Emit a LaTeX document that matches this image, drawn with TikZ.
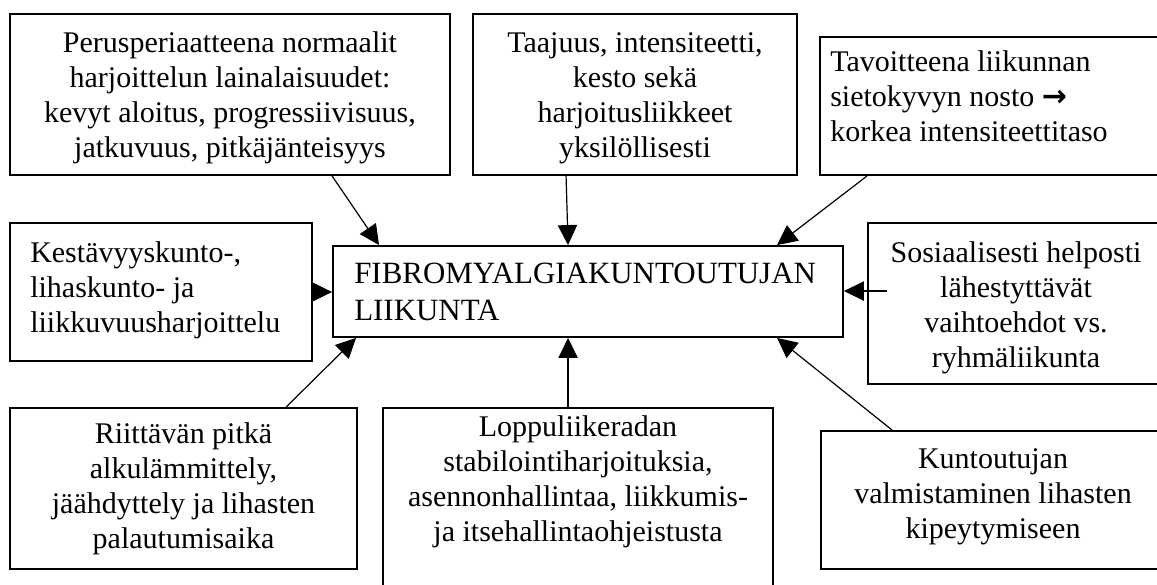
\documentclass[tikz,border=0pt]{standalone}
\usepackage{fontspec}
\setmainfont{Liberation Serif}
\newfontfamily\arrowfont{DejaVu Sans}
\usetikzlibrary{arrows.meta,calc}

\begin{document}
\begin{tikzpicture}[x=0.75pt,y=-0.75pt,
  box/.style={draw,line width=1.4pt,inner sep=0pt,
    minimum width={#1}},
  boxh/.style={minimum height={#1}},
  % text blocks are placed by the baseline of their last line
  txt/.style={inner sep=0pt,anchor=base,
    font=\fontsize{22.5pt}{26.25pt}\selectfont},
  arr/.style={line width=0.9pt,-{Triangle[length=15pt,width=14.5pt]}}]

\useasboundingbox (0,0) rectangle (1157,585);
\clip (0,0) rectangle (1157,585);

% frames (sizes given in pixels, 1px = 0.75pt)
\node[box=440*0.75pt,boxh=161*0.75pt] (b1) at (230,94.5) {};
\node[box=324*0.75pt,boxh=161*0.75pt] (b2) at (635,94.5) {};
\node[box=350*0.75pt,boxh=138*0.75pt] (b3) at (995,106) {};
\node[box=302*0.75pt,boxh=138*0.75pt] (b4) at (161,292) {};
\node[box=510*0.75pt,boxh=91*0.75pt]  (c)  at (588,291.5) {};
\node[box=297*0.75pt,boxh=161*0.75pt] (b6) at (1016.5,303.5) {};
\node[box=347*0.75pt,boxh=161*0.75pt] (b7) at (183.5,488.5) {};
\node[box=390*0.75pt,boxh=212*0.75pt] (b8) at (578,514) {};
\node[box=344*0.75pt,boxh=138*0.75pt] (b9) at (993,500) {};

% texts
\node[txt,align=center] (t1) at (230,157)
  {Perusperiaatteena normaalit\\harjoittelun lainalaisuudet:\\kevyt aloitus, progressiivisuus,\\jatkuvuus, pitkäjänteisyys};
\node[txt,align=center] (t2) at (635,157)
  {Taajuus, intensiteetti,\\kesto sekä\\harjoitusliikkeet\\yksilöllisesti};
\node[txt,align=left,anchor=base west] (t3) at (830,142)
  {Tavoitteena liikunnan\\sietokyvyn nosto {\arrowfont\bfseries →}\\korkea intensiteettitaso};
\node[txt,align=left,anchor=base west] (t4) at (30,332)
  {Kestävyyskunto-,\\lihaskunto- ja\\liikkuvuusharjoittelu};
\node[txt,align=left,anchor=base west,
  font=\fontsize{23.2pt}{27.75pt}\selectfont] (tc) at (354,320)
  {FIBROMYALGIAKUNTOUTUJAN\\LIIKUNTA};
\node[txt,align=center] (t6) at (1016,367)
  {Sosiaalisesti helposti\\lähestyttävät\\vaihtoehdot vs.\\ryhmäliikunta};
\node[txt,align=center] (t7) at (183.5,548)
  {Riittävän pitkä\\alkulämmittely,\\jäähdyttely ja lihasten\\palautumisaika};
\node[txt,align=center] (t8) at (578,541)
  {Loppuliikeradan\\stabilointiharjoituksia,\\asennonhallintaa, liikkumis-\\ja itsehallintaohjeistusta};
\node[txt,align=center] (t9) at (993,538)
  {Kuntoutujan\\valmistaminen lihasten\\kipeytymiseen};

% connectors into the central frame
\draw[arr] ($(b1.south west)+(323,0)$) -- ($(c.north west)+(47,0)$);
\draw[arr] ($(b2.south west)+(94,0)$) -- ($(c.north west)+(236,0)$);
\draw[arr] ($(b3.south west)+(48,0)$) -- ($(c.north west)+(445,0)$);
\draw[arr] (b4.east) -- (b4.east -| c.west);
\coordinate (a5) at ($(b6.north west)+(20,69)$);
\draw[arr] (a5) -- (a5 -| c.east);
\draw[arr] ($(b7.north west)+(277,0)$) -- ($(c.south west)+(24,0)$);
\draw[arr] ($(b8.north west)+(186,0)$) -- ($(c.south west)+(236,0)$);
\draw[arr] ($(b9.north west)+(72,0)$) -- ($(c.south west)+(445,0)$);
\end{tikzpicture}
\end{document}
